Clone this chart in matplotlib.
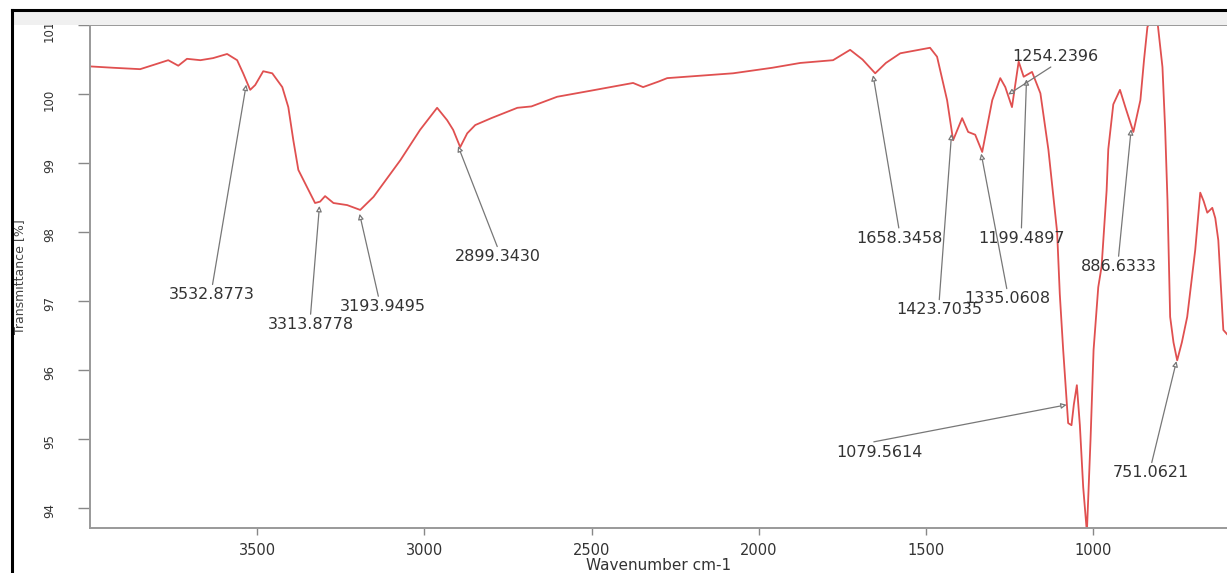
import matplotlib.pyplot as plt
from matplotlib.lines import Line2D
from matplotlib.patches import Rectangle
import numpy as np

# FTIR spectrum, values
wavenumber = [4000, 3930, 3850, 3811, 3766, 3736, 3710, 3670, 3632, 3590,
              3560, 3542, 3521, 3506, 3482, 3455, 3425, 3407, 3392, 3377,
              3351, 3327, 3312, 3297, 3272, 3231, 3192, 3152, 3072, 3013,
              2962, 2932, 2914, 2893, 2872, 2848, 2800, 2722, 2680, 2603,
              2500, 2376, 2346, 2300, 2274, 2077, 1960, 1876, 1778, 1727,
              1690, 1652, 1620, 1577, 1488, 1467, 1437, 1419, 1392, 1374,
              1353, 1332, 1302, 1278, 1263, 1243, 1223, 1208, 1183, 1158,
              1134, 1108, 1100, 1090, 1075, 1065, 1058, 1049, 1040, 1030,
              1019, 1008, 999, 985, 975, 960, 955, 940, 920, 904,
              880, 859, 848, 838, 825, 808, 793, 785, 778, 770,
              760, 749, 735, 719, 695, 680, 670, 659, 644, 635,
              626, 611, 600]
transmittance = [100.40, 100.38, 100.36, 100.42, 100.49, 100.41, 100.51, 100.49, 100.52, 100.58,
                 100.49, 100.30, 100.06, 100.13, 100.33, 100.30, 100.10, 99.81, 99.33, 98.90,
                 98.65, 98.42, 98.44, 98.52, 98.42, 98.39, 98.32, 98.51, 99.04, 99.48,
                 99.80, 99.62, 99.48, 99.23, 99.43, 99.55, 99.65, 99.80, 99.82, 99.96,
                 100.05, 100.16, 100.10, 100.18, 100.23, 100.30, 100.38, 100.45, 100.49, 100.64,
                 100.50, 100.30, 100.45, 100.59, 100.67, 100.54, 99.91, 99.33, 99.65, 99.45,
                 99.41, 99.16, 99.91, 100.23, 100.10, 99.81, 100.47, 100.25, 100.32, 100.01,
                 99.19, 98.00, 97.10, 96.30, 95.23, 95.20, 95.50, 95.78, 95.20, 94.30,
                 93.65, 95.00, 96.29, 97.20, 97.50, 98.60, 99.20, 99.85, 100.06, 99.81,
                 99.45, 99.91, 100.50, 100.97, 101.10, 101.05, 100.39, 99.50, 98.46, 96.77,
                 96.40, 96.14, 96.40, 96.77, 97.74, 98.57, 98.45, 98.28, 98.35, 98.20,
                 97.88, 96.58, 96.52]

peak_labels = ['3532.8773', '3313.8778', '3193.9495', '2899.3430', '1658.3458',
               '1199.4897', '1254.2396', '886.6333', '1335.0608', '1423.7035',
               '1079.5614', '751.0621']

# where each label text sits (wavenumber, transmittance) and where its arrow leaves it
label_pos = [(3635, 97.09), (3341, 96.66), (3123, 96.92), (2779, 97.64), (1580, 97.91),
             (1215, 97.91), (1114, 100.54), (925, 97.50), (1257, 97.03), (1461, 96.87),
             (1640, 94.81), (827, 94.51)]
arrow_rel = [(0.5, 1), (0.5, 1), (0.45, 1), (0.5, 1), (0.5, 1),
             (0.5, 1), (0.5, 0), (0.5, 1), (0.5, 1), (0.5, 1),
             (0.27, 1), (0.5, 1)]

W, H = 1227, 573
fig = plt.figure(figsize=(W / 100, H / 100), dpi=100)
fig.patch.set_facecolor('white')

# grey band above the plot and the black frame on the left/top
fig.patches.append(Rectangle((12 / W, 1 - 25 / H), 1, 15 / H, transform=fig.transFigure,
                             facecolor='#f0f0f0', edgecolor='none', zorder=0))
fig.lines.append(Line2D([12 / W, 12 / W], [0, 1 - 10 / H], transform=fig.transFigure,
                        color='black', lw=2.2))
fig.lines.append(Line2D([12 / W, 1], [1 - 10 / H, 1 - 10 / H], transform=fig.transFigure,
                        color='black', lw=2.2))

ax = fig.add_axes([90 / W, 45 / H, 1 - 90 / W, 503 / H])
ax.plot(wavenumber, transmittance, color='#e05050', lw=1.3)

ax.set_xlim(4000, 600)
ax.set_ylim(93.71, 101)
ax.set_xticks([3500, 3000, 2500, 2000, 1500, 1000])
ax.set_yticks(range(94, 102))

for side in ['left', 'bottom', 'top']:
    ax.spines[side].set_color('#999999')
    ax.spines[side].set_linewidth(1.4)
ax.spines['right'].set_visible(False)

ax.tick_params(axis='y', length=8.5, width=1, color='#888888', pad=16,
               labelrotation=90, labelsize=8.5, labelcolor='#333333')
ax.tick_params(axis='x', length=5, width=1, color='#888888', pad=6,
               labelsize=10.5, labelcolor='#333333')

ax.set_xlabel('Wavenumber cm-1', fontsize=11, color='#333333', labelpad=0)
ax.set_ylabel('Transmittance [%]', fontsize=9, color='#444444')
ax.yaxis.set_label_coords(-0.056, 0.5)

w_rev = np.array(wavenumber[::-1])
t_rev = np.array(transmittance[::-1])
for lab, (tx, ty), rel in zip(peak_labels, label_pos, arrow_rel):
    px = float(lab)
    py = np.interp(px, w_rev, t_rev)
    py = py - 0.06 if ty < py else py + 0.02
    ax.annotate(lab, xy=(px, py), xytext=(tx, ty), ha='center', va='center',
                fontsize=11.5, color='#333333',
                arrowprops=dict(arrowstyle='-|>', ec='#777777', fc='white', lw=0.9,
                                mutation_scale=8, shrinkA=0, shrinkB=0, relpos=rel))

fig.savefig('out.png', dpi=100)
